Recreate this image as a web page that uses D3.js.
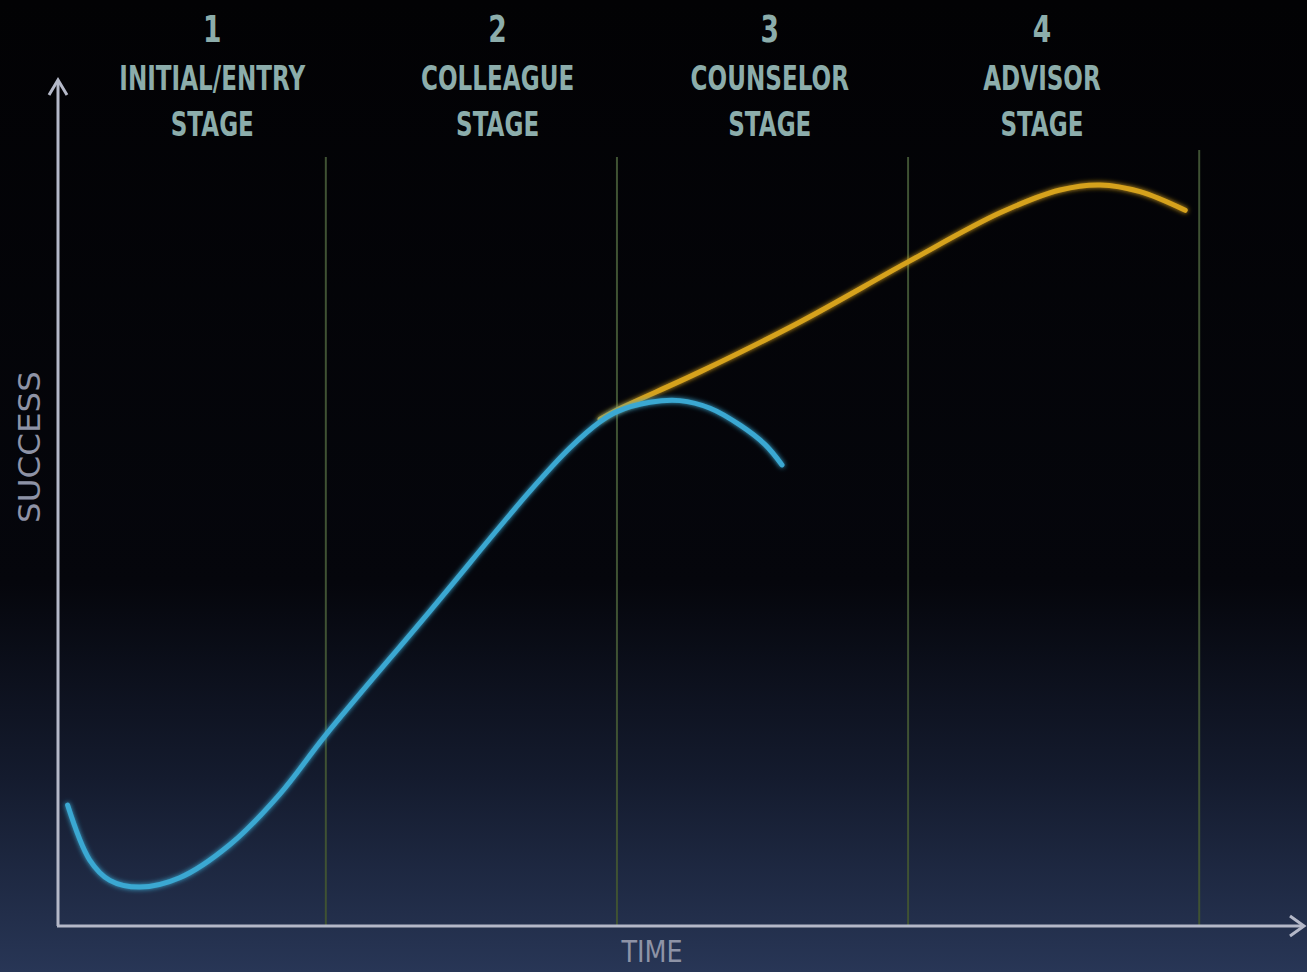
<!DOCTYPE html>
<html lang="en">
  <head>
    <meta charset="UTF-8" />
    <title>Stages</title>
    <script src="https://cdn.jsdelivr.net/npm/d3@7"></script>
    <style>
      body {
        padding: 0;
        margin: 0;
        background: #000;
      }
      svg {
        display: block;
      }
      .stage-label {
        font-family: "DejaVu Sans", sans-serif;
        font-weight: bold;
        fill: #8cadab;
      }
      .axis-label {
        font-family: "DejaVu Sans", sans-serif;
        fill: #8e93a6;
      }
    </style>
  </head>
  <body>
    <svg id="chart" width="1307" height="972"></svg>

    <script>
      // stage boundaries (time units) and labels
      const stageBounds = [1, 2, 3, 4];
      const stageNums = ["1", "2", "3", "4"];
      const stageNames = [
        ["INITIAL/ENTRY", "STAGE"],
        ["COLLEAGUE", "STAGE"],
        ["COUNSELOR", "STAGE"],
        ["ADVISOR", "STAGE"],
      ];
      const stageCenters = [0.61, 1.59, 2.525, 3.46];

      // blue curve: [time, success]
      const blueCurve = [
        [0.113, 14.3], [0.189, 7.8], [0.258, 5.4], [0.361, 4.6], [0.498, 5.7],
        [0.67, 9.6], [0.842, 15.6], [1.0, 22.6], [1.357, 37.2],
        [1.701, 51.4], [1.838, 56.5], [1.942, 59.6], [2.0, 60.8],
        [2.113, 61.9], [2.216, 62.1], [2.32, 61.2], [2.423, 59.2], [2.509, 56.9],
        [2.567, 54.5],
      ];

      // gold curve: [time, success]
      const goldCurve = [
        [1.942, 59.9], [2.0, 61.0], [2.285, 65.5], [2.629, 71.4], [3.0, 78.5],
        [3.316, 84.3], [3.522, 87.0], [3.66, 87.6], [3.797, 86.8], [3.952, 84.6],
      ];

      const width = 1307;
      const height = 972;
      const svg = d3.select("#chart");

      // background gradient: black to navy
      const defs = svg.append("defs");
      const grad = defs
        .append("linearGradient")
        .attr("id", "bg")
        .attr("x1", 0)
        .attr("y1", 0)
        .attr("x2", 0)
        .attr("y2", 1);
      grad.append("stop").attr("offset", "0%").attr("stop-color", "#020204");
      grad.append("stop").attr("offset", "60%").attr("stop-color", "#05060c");
      grad.append("stop").attr("offset", "80%").attr("stop-color", "#141b2e");
      grad.append("stop").attr("offset", "100%").attr("stop-color", "#283656");

      const glow = defs.append("filter").attr("id", "glow")
        .attr("x", "-10%").attr("y", "-10%").attr("width", "120%").attr("height", "120%");
      glow.append("feGaussianBlur").attr("stdDeviation", 2.5).attr("result", "b");
      const merge = glow.append("feMerge");
      merge.append("feMergeNode").attr("in", "b");
      merge.append("feMergeNode").attr("in", "SourceGraphic");

      svg.append("rect").attr("width", width).attr("height", height).attr("fill", "url(#bg)");

      const x = d3.scaleLinear().domain([0.08, 4.36]).range([58, 1304]);
      const y = d3.scaleLinear().domain([0, 100]).range([926, 80]);

      // stage dividers
      svg
        .selectAll(".divider")
        .data(stageBounds)
        .enter()
        .append("line")
        .attr("x1", (d) => x(d))
        .attr("x2", (d) => x(d))
        .attr("y1", (d, i) => (i === 3 ? 150 : 157))
        .attr("y2", y(0))
        .attr("stroke", "#3f5233")
        .attr("stroke-width", 2);

      // axes
      const axisColor = "#b4b8c8";
      svg.append("line")
        .attr("x1", x(0.08)).attr("y1", y(0))
        .attr("x2", x(0.08)).attr("y2", y(100) + 2)
        .attr("stroke", axisColor).attr("stroke-width", 3);
      svg.append("path")
        .attr("d", `M${x(0.08) - 9},${y(100) + 15} L${x(0.08)},${y(100)} L${x(0.08) + 9},${y(100) + 15}`)
        .attr("fill", "none").attr("stroke", axisColor).attr("stroke-width", 3);

      svg.append("line")
        .attr("x1", x(0.08) - 1).attr("y1", y(0))
        .attr("x2", x(4.36) - 2).attr("y2", y(0))
        .attr("stroke", axisColor).attr("stroke-width", 3);
      svg.append("path")
        .attr("d", `M${x(4.36) - 14},${y(0) - 10} L${x(4.36)},${y(0)} L${x(4.36) - 14},${y(0) + 10}`)
        .attr("fill", "none").attr("stroke", axisColor).attr("stroke-width", 3);

      // axis labels
      svg.append("text")
        .attr("class", "axis-label")
        .attr("transform", "translate(652,962) scale(0.85,1)")
        .attr("text-anchor", "middle")
        .attr("font-size", 30)
        .attr("fill", "#9aa2bc")
        .text("TIME");

      svg.append("text")
        .attr("class", "axis-label")
        .attr("transform", "translate(40,447) rotate(-90) scale(1.05,1)")
        .attr("text-anchor", "middle")
        .attr("font-size", 31)
        .text("SUCCESS");

      // stage labels
      const labels = svg
        .selectAll(".stage")
        .data(stageNums)
        .enter()
        .append("g")
        .attr("class", "stage")
        .attr("transform", (d, i) => `translate(${x(stageCenters[i])},0) scale(0.7,1)`);

      labels.append("text")
        .attr("class", "stage-label")
        .attr("text-anchor", "middle")
        .attr("y", 42)
        .attr("font-size", 38)
        .text((d) => d);

      labels.each(function (d, i) {
        const g = d3.select(this);
        stageNames[i].forEach((line, j) => {
          g.append("text")
            .attr("class", "stage-label")
            .attr("text-anchor", "middle")
            .attr("y", 90 + j * 46)
            .attr("font-size", 33)
            .text(line);
        });
      });

      // curves
      const line = d3
        .line()
        .x((d) => x(d[0]))
        .y((d) => y(d[1]))
        .curve(d3.curveCatmullRom.alpha(0.5));

      svg.append("path")
        .datum(goldCurve)
        .attr("d", line)
        .attr("fill", "none")
        .attr("stroke", "#d6a21e")
        .attr("stroke-width", 5)
        .attr("stroke-linecap", "round")
        .attr("filter", "url(#glow)");

      svg.append("path")
        .datum(blueCurve)
        .attr("d", line)
        .attr("fill", "none")
        .attr("stroke", "#3aa8d2")
        .attr("stroke-width", 5)
        .attr("stroke-linecap", "round")
        .attr("filter", "url(#glow)");
    </script>
  </body>
</html>
